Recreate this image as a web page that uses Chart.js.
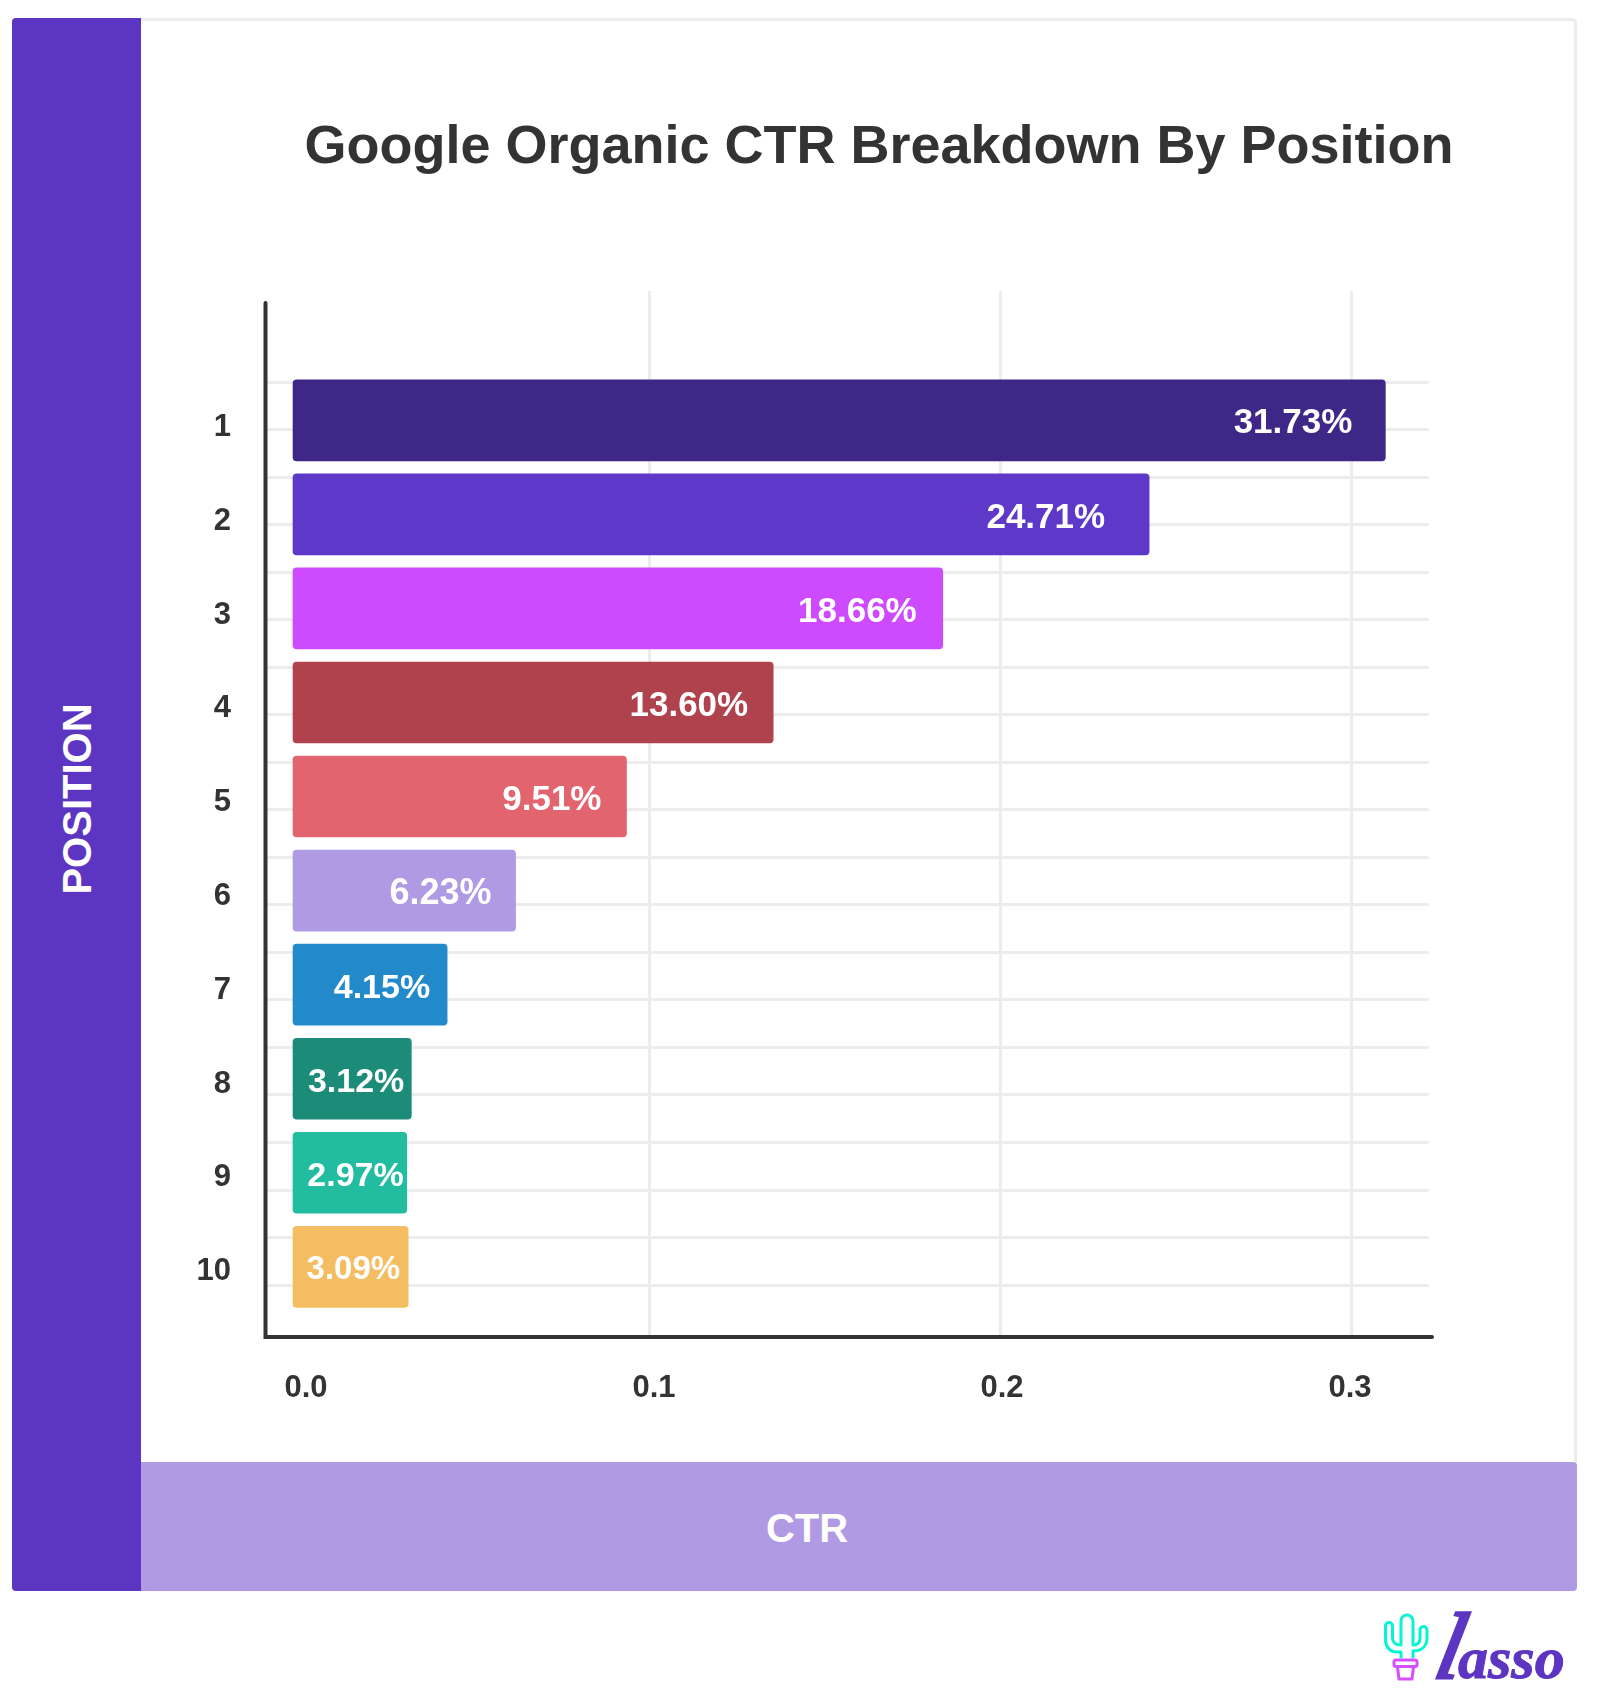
<!DOCTYPE html>
<html>
<head>
<meta charset="utf-8">
<title>Google Organic CTR Breakdown By Position</title>
<script src="https://cdn.jsdelivr.net/npm/chart.js@4"></script>
<style>
  html, body { margin: 0; padding: 0; background: #fff; }
  body { position: relative; width: 1600px; height: 1702px; overflow: hidden; font-family: "Liberation Sans", Arial, sans-serif; }
  #card { position: absolute; left: 12px; top: 18px; width: 1559px; height: 1567px; border: 3px solid #ececec; border-radius: 5px; }
  #band-left { position: absolute; left: 12px; top: 18px; width: 129px; height: 1573px; background: #5c35c2; border-radius: 4px 0 0 4px; }
  #band-bottom { position: absolute; left: 141px; top: 1462px; width: 1436px; height: 129px; background: #b09ae4; border-radius: 0 4px 4px 0; }
  .band-text { position: absolute; color: #fff; font-weight: 700; font-size: 40px; line-height: 44px; white-space: nowrap; }
  #title-y { left: 77px; top: 799px; transform: translate(-50%, -50%) rotate(-90deg); }
  #title-x { left: 807px; top: 1528px; transform: translate(-50%, -50%); }
  #title { position: absolute; left: 879px; top: 112px; transform: translateX(-50%); margin: 0; color: #333; font-size: 54px; line-height: 64px; font-weight: 700; white-space: nowrap; }
  canvas { position: absolute; left: 0; top: 0; }
  #logo { position: absolute; left: 0; top: 0; }
</style>
</head>
<body>
<div id="card"></div>
<div id="band-left"></div>
<div id="band-bottom"></div>
<div id="title-y" class="band-text">POSITION</div>
<div id="title-x" class="band-text">CTR</div>
<h1 id="title">Google Organic CTR Breakdown By Position</h1>
<canvas id="ctr-chart" width="1600" height="1702"></canvas>

<svg id="logo" width="1600" height="1702" xmlns="http://www.w3.org/2000/svg">
  <path d="M1401 1658 V1652 H1397 C1390 1652 1385.500 1647 1385.500 1640 V1626 a3.500 3.500 0 0 1 7 0 V1638 c0 4 3 7 8.500 7 V1621 a6 6 0 0 1 12 0 V1645 c5 0 7 -3 7 -7 V1630 a3.500 3.500 0 0 1 7 0 V1638 c0 8 -5 13 -14 13 V1658"
        fill="none" stroke="#05f5d2" stroke-width="3" stroke-linejoin="round"/>
  <rect x="1394" y="1660" width="23" height="6.500" rx="2" fill="none" stroke="#d54fff" stroke-width="3"/>
  <path d="M1397.500 1667 L1399 1679 H1412 L1413.500 1667" fill="none" stroke="#d54fff" stroke-width="3" stroke-linejoin="round"/>
  <g fill="#5c35c2" stroke="#5c35c2" font-family="Liberation Serif" font-style="italic">
    <text transform="translate(1432 1678) skewX(-12)" font-size="94" stroke-width="3">l</text>
    <text x="1458" y="1678" font-size="60" font-weight="700" stroke-width="1">asso</text>
  </g>
</svg>

<script>
// --- Chart data ---
const positions = [1, 2, 3, 4, 5, 6, 7, 8, 9, 10];
const ctrValues = [0.3097, 0.2424, 0.1836, 0.1353, 0.0935, 0.0619, 0.0424, 0.0322, 0.0309, 0.0313];
const ctrLabels = ['31.73%', '24.71%', '18.66%', '13.60%', '9.51%', '6.23%', '4.15%', '3.12%', '2.97%', '3.09%'];
const xTickValues = [0, 0.1, 0.2, 0.3];
const xGridValues = [0.1, 0.2, 0.3];
const yGridValues = [0.5, 1, 1.5, 2, 2.5, 3, 3.5, 4, 4.5, 5, 5.5, 6, 6.5, 7, 7.5, 8, 8.5, 9, 9.5, 10];

// --- Style tokens ---
const BAR_COLORS = ['#3f2787', '#5e38c9', '#cd4aff', '#b0424e', '#e1646f', '#b09ae4', '#228acb', '#1c8c78', '#22bca0', '#f5bd62'];
const LABEL_INSETS = [33, 44, 26, 25, 25, 24, 17, 7, 3, 8];
const LABEL_SIZES = [35, 35, 35, 35, 35, 36, 34, 34, 34, 33];
const GRID_COLOR = '#ececec';
const TEXT_COLOR = '#333333';
const FONT_FAMILY = "'Liberation Sans', Arial, sans-serif";

// Plot box in page pixels
const PLOT = { left: 267, right: 1429, top: 291, bottom: 1337 };

// Build a min/max pair so `value` lands on `px` with the given pixels per unit
function rangeFor(value, px, perUnit, start, end) {
    return { min: value + (start - px) / perUnit, max: value + (end - px) / perUnit };
}

const xRange = rangeFor(0, 298.3, 3510, PLOT.left, PLOT.right);
const xLabelRange = rangeFor(0, 306, 3480, PLOT.left, PLOT.right);
const yRange = rangeFor(1, 420.3, 94.06, PLOT.top, PLOT.bottom);
const yGridRange = rangeFor(1, 429.6, 95.05, PLOT.top, PLOT.bottom);
const yLabelRange = rangeFor(1, 427.5, 93.8, PLOT.top, PLOT.bottom);
const barBase = (293 - 298.3) / 3510;

const setTicks = values => scale => { scale.ticks = values.map(value => ({ value })); };
const fitWidth = w => scale => { scale.width = w; };
const fitHeight = h => scale => { scale.height = h; };

// Axis lines run a little past the plot box, with round caps
const axisLinesPlugin = {
    id: 'axisLines',
    afterDatasetsDraw(chart) {
        const { ctx, chartArea } = chart;
        ctx.save();
        ctx.strokeStyle = TEXT_COLOR;
        ctx.lineWidth = 4;
        ctx.lineCap = 'round';
        ctx.beginPath();
        ctx.moveTo(chartArea.left - 1.5, chartArea.top + 12);
        ctx.lineTo(chartArea.left - 1.5, chartArea.bottom);
        ctx.lineTo(chartArea.right + 3, chartArea.bottom);
        ctx.stroke();
        ctx.restore();
    }
};

// White value labels inside the bars
const barLabelsPlugin = {
    id: 'barLabels',
    afterDatasetsDraw(chart) {
        const { ctx } = chart;
        const bars = chart.getDatasetMeta(0).data;
        ctx.save();
        ctx.fillStyle = '#ffffff';
        ctx.textAlign = 'right';
        ctx.textBaseline = 'middle';
        bars.forEach((bar, i) => {
            ctx.font = `700 ${LABEL_SIZES[i]}px ${FONT_FAMILY}`;
            ctx.fillText(ctrLabels[i], bar.x - LABEL_INSETS[i], bar.y + 3.5);
        });
        ctx.restore();
    }
};

new Chart(document.getElementById('ctr-chart').getContext('2d'), {
    type: 'bar',
    data: {
        datasets: [{
            data: positions.map((pos, i) => ({ x: ctrValues[i], y: pos })),
            backgroundColor: BAR_COLORS,
            base: barBase,
            barThickness: 81,
            borderRadius: 4,
            borderSkipped: false,
            xAxisID: 'x',
            yAxisID: 'y',
        }]
    },
    options: {
        indexAxis: 'y',
        responsive: false,
        animation: false,
        layout: { padding: { left: 0, top: PLOT.top, right: 1600 - PLOT.right, bottom: 0 } },
        plugins: { legend: { display: false }, tooltip: { enabled: false }, title: { display: false } },
        scales: {
            // bars and vertical grid
            x: {
                type: 'linear', position: 'bottom', min: xRange.min, max: xRange.max,
                afterBuildTicks: setTicks(xGridValues),
                afterFit: fitHeight(0),
                grid: { color: GRID_COLOR, lineWidth: 3, drawTicks: false },
                ticks: { display: false },
                border: { display: false },
            },
            // 0.0 / 0.1 / 0.2 / 0.3 labels
            xLabels: {
                axis: 'x', type: 'linear', position: 'bottom', min: xLabelRange.min, max: xLabelRange.max,
                afterBuildTicks: setTicks(xTickValues),
                afterFit: fitHeight(1702 - PLOT.bottom),
                grid: { display: false },
                border: { display: false },
                ticks: {
                    autoSkip: false, maxRotation: 0, padding: 25, color: TEXT_COLOR,
                    font: { family: FONT_FAMILY, size: 31, weight: '700' },
                    callback: v => v.toFixed(1),
                },
            },
            // bar chart defaults put offset on the index axis, so switch it off on each y scale
            y: {
                type: 'linear', reverse: true, offset: false, min: yRange.min, max: yRange.max,
                afterFit: fitWidth(0),
                grid: { display: false, offset: false },
                ticks: { display: false },
                border: { display: false },
            },
            // horizontal grid, two lines per band
            yGrid: {
                axis: 'y', type: 'linear', position: 'left', reverse: true, offset: false, min: yGridRange.min, max: yGridRange.max,
                afterBuildTicks: setTicks(yGridValues),
                afterFit: fitWidth(0),
                grid: { color: GRID_COLOR, lineWidth: 3, drawTicks: false, offset: false },
                ticks: { display: false },
                border: { display: false },
            },
            // 1..10 labels
            yLabels: {
                axis: 'y', type: 'linear', position: 'left', reverse: true, offset: false, min: yLabelRange.min, max: yLabelRange.max,
                afterBuildTicks: setTicks(positions),
                afterFit: fitWidth(PLOT.left),
                grid: { display: false, offset: false },
                border: { display: false },
                ticks: {
                    autoSkip: false, padding: 28, color: TEXT_COLOR,
                    font: { family: FONT_FAMILY, size: 31, weight: '700' },
                    callback: v => String(v),
                },
            },
        },
    },
    plugins: [axisLinesPlugin, barLabelsPlugin],
});
</script>
</body>
</html>
